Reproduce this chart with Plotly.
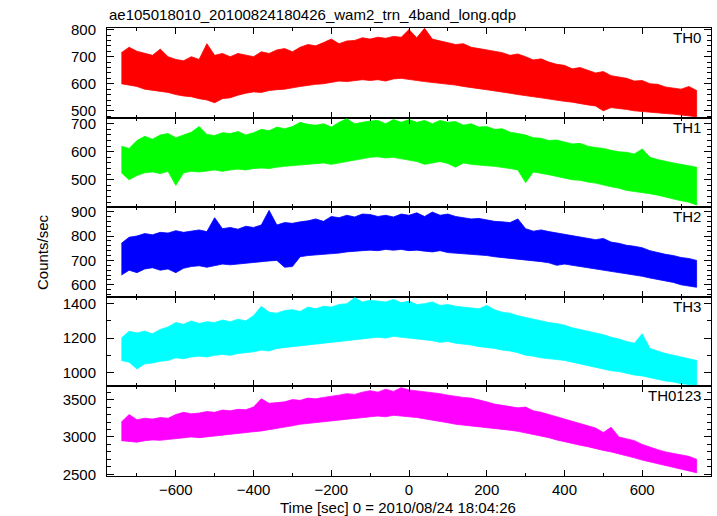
import plotly.graph_objects as go

time_s = list(range(-740, 741, 20))

# Upper / lower envelopes of each light curve (counts/sec)
th0_hi = [715, 735, 720, 712, 705, 728, 700, 690, 685, 700,
          690, 748, 705, 712, 700, 712, 705, 700, 718, 712,
          725, 730, 718, 735, 745, 740, 752, 765, 748, 758,
          760, 770, 765, 772, 768, 775, 772, 800, 770, 805,
          765, 758, 752, 745, 748, 735, 730, 725, 722, 715,
          705, 710, 700, 688, 692, 680, 672, 668, 655, 660,
          650, 640, 645, 630, 625, 620, 610, 612, 600, 598,
          588, 585, 580, 590, 575]
th0_lo = [600, 595, 590, 580, 575, 572, 568, 560, 555, 552,
          545, 540, 530, 545, 548, 558, 565, 570, 568, 575,
          578, 580, 585, 590, 595, 598, 600, 605, 610, 608,
          612, 615, 612, 615, 610, 618, 620, 615, 612, 608,
          605, 600, 598, 595, 590, 585, 582, 578, 575, 570,
          565, 560, 555, 552, 548, 545, 540, 535, 532, 528,
          522, 518, 500, 512, 508, 505, 500, 498, 495, 492,
          490, 488, 485, 482, 478]

th1_hi = [620, 612, 640, 655, 645, 660, 665, 650, 660, 670,
          690, 662, 658, 668, 665, 672, 660, 668, 680, 675,
          688, 682, 690, 705, 698, 695, 700, 688, 705, 718,
          700, 705, 710, 712, 700, 715, 705, 715, 705, 712,
          700, 712, 705, 708, 695, 700, 688, 690, 680, 682,
          670, 665, 660, 650, 648, 640, 642, 635, 628, 630,
          620, 615, 612, 605, 600, 598, 592, 610, 580, 572,
          565, 560, 555, 550, 545]
th1_lo = [525, 500, 515, 525, 528, 522, 530, 480, 525, 530,
          528, 532, 535, 530, 535, 538, 535, 540, 542, 540,
          545, 548, 550, 552, 555, 558, 560, 555, 560, 565,
          570, 575, 580, 582, 578, 580, 575, 570, 565, 555,
          560, 565, 558, 545, 560, 555, 552, 550, 548, 545,
          540, 535, 490, 528, 522, 518, 512, 505, 500, 498,
          492, 488, 482, 475, 470, 462, 458, 455, 450, 445,
          440, 432, 425, 420, 410]

th2_hi = [770, 795, 800, 810, 805, 815, 812, 822, 815, 820,
          825, 818, 875, 830, 835, 828, 840, 835, 845, 905,
          845, 855, 852, 858, 862, 870, 860, 880, 875, 885,
          878, 890, 888, 880, 885, 878, 890, 885, 895, 880,
          898, 885, 890, 880, 875, 870, 872, 865, 860, 858,
          855, 870, 830, 820, 825, 818, 812, 808, 800, 795,
          790, 785, 790, 775, 770, 762, 758, 752, 740, 732,
          725, 720, 712, 708, 700]
th2_lo = [640, 660, 650, 665, 670, 660, 665, 650, 668, 675,
          678, 672, 680, 685, 682, 688, 690, 692, 695, 698,
          700, 672, 675, 715, 720, 722, 725, 728, 730, 735,
          738, 740, 742, 740, 745, 742, 745, 740, 742, 738,
          735, 740, 732, 730, 728, 725, 722, 720, 715, 712,
          708, 705, 700, 698, 695, 690, 680, 685, 682, 678,
          672, 665, 660, 655, 650, 645, 640, 635, 628, 620,
          615, 610, 600, 595, 590]

th3_hi = [1200, 1240, 1230, 1240, 1225, 1250, 1265, 1290, 1280, 1300,
          1285, 1295, 1290, 1305, 1295, 1310, 1300, 1330, 1385, 1350,
          1345, 1360, 1365, 1355, 1380, 1370, 1385, 1380, 1395, 1400,
          1435, 1410, 1420, 1415, 1410, 1425, 1405, 1415, 1395, 1400,
          1410, 1390, 1395, 1385, 1380, 1375, 1370, 1390, 1365, 1350,
          1345, 1330, 1320, 1310, 1300, 1290, 1285, 1275, 1260, 1250,
          1240, 1230, 1220, 1205, 1195, 1180, 1170, 1225, 1140, 1125,
          1110, 1100, 1090, 1080, 1070]
th3_lo = [1070, 1060, 1020, 1050, 1055, 1065, 1070, 1085, 1080, 1090,
          1095, 1090, 1100, 1105, 1100, 1110, 1115, 1120, 1130, 1125,
          1140, 1145, 1150, 1155, 1160, 1165, 1170, 1175, 1180, 1185,
          1190, 1195, 1200, 1205, 1200, 1210, 1205, 1200, 1195, 1190,
          1185, 1175, 1180, 1170, 1165, 1160, 1150, 1145, 1140, 1130,
          1125, 1115, 1100, 1095, 1085, 1080, 1075, 1070, 1060, 1050,
          1040, 1030, 1020, 1010, 1005, 995, 985, 980, 970, 960,
          950, 945, 935, 930, 925]

th0123_hi = [3200, 3300, 3230, 3250, 3240, 3260, 3250, 3300, 3330, 3310,
             3320, 3340, 3330, 3360, 3350, 3370, 3365, 3400, 3510, 3450,
             3460, 3470, 3500, 3490, 3520, 3510, 3530, 3540, 3560, 3580,
             3570, 3600, 3620, 3600, 3640, 3610, 3660, 3630, 3620, 3600,
             3590, 3580, 3560, 3540, 3530, 3520, 3500, 3470, 3440, 3420,
             3400, 3390, 3400, 3350, 3330, 3300, 3270, 3250, 3220, 3180,
             3150, 3120, 3060, 3130, 3000, 2980, 2950, 2900, 2860, 2830,
             2800, 2780, 2760, 2740, 2700]
th0123_lo = [2950, 2940, 2930, 2950, 2960, 2955, 2970, 2980, 2990, 3000,
             2990, 3010, 3020, 3030, 3040, 3050, 3060, 3070, 3080, 3090,
             3110, 3130, 3150, 3170, 3190, 3200, 3210, 3220, 3230, 3240,
             3250, 3260, 3270, 3280, 3270, 3290, 3280, 3270, 3260, 3250,
             3230, 3210, 3190, 3170, 3155, 3140, 3130, 3120, 3110, 3100,
             3090, 3075, 3060, 3040, 3010, 2990, 2960, 2940, 2910, 2890,
             2870, 2850, 2820, 2800, 2770, 2750, 2720, 2690, 2660, 2640,
             2610, 2590, 2570, 2545, 2520]

band_names = ["TH0", "TH1", "TH2", "TH3", "TH0123"]
band_hi = [th0_hi, th1_hi, th2_hi, th3_hi, th0123_hi]
band_lo = [th0_lo, th1_lo, th2_lo, th3_lo, th0123_lo]
band_colors = ["#ff0000", "#00ff00", "#0000ff", "#00ffff", "#ff00ff"]
y_ranges = [[475, 806], [402, 722], [551, 918], [919, 1440], [2477, 3677]]
y_major = [100, 100, 100, 200, 500]
y_minor = [20, 20, 20, 100, 100]
x_range = [-777, 777]

title_text = "ae105018010_20100824180426_wam2_trn_4band_long.qdp"
x_title = "Time [sec] 0 = 2010/08/24 18:04:26"
y_title = "Counts/sec"

FONT = "Liberation Sans, Arial, Helvetica, sans-serif"
fig = go.Figure()
n = len(band_names)
layout = dict(
    width=717, height=516,
    margin=dict(l=107, r=6, t=28, b=40),
    paper_bgcolor="white", plot_bgcolor="white",
    showlegend=False,
    font=dict(family=FONT, size=15, color="black"),
)
annotations = []
for k in range(n):
    xs = "" if k == 0 else str(k + 1)
    fig.add_trace(go.Scatter(
        x=time_s + time_s[::-1],
        y=band_hi[k] + band_lo[k][::-1],
        mode="lines", fill="toself",
        fillcolor=band_colors[k],
        line=dict(color=band_colors[k], width=0.8),
        xaxis="x" + xs, yaxis="y" + xs, hoverinfo="skip",
    ))
    top = 1 - k / n
    bot = 1 - (k + 1) / n
    layout["xaxis" + xs] = dict(
        domain=[0, 1], anchor="y" + xs, range=x_range,
        showline=True, linecolor="black", linewidth=1, mirror="ticks",
        ticks="inside", ticklen=6, tickcolor="black", tick0=0, dtick=200,
        minor=dict(dtick=100, ticklen=3, ticks="inside", tickcolor="black", showgrid=False),
        showgrid=False, zeroline=False,
        showticklabels=(k == n - 1),
        tickfont=dict(size=15, family=FONT, color="black"),
    )
    layout["yaxis" + xs] = dict(
        domain=[bot, top], anchor="x" + xs, range=y_ranges[k],
        showline=True, linecolor="black", linewidth=1, mirror="ticks",
        ticks="inside", ticklen=7, tickcolor="black", tick0=0, dtick=y_major[k],
        minor=dict(dtick=y_minor[k], ticklen=4, ticks="inside", tickcolor="black", showgrid=False),
        showgrid=False, zeroline=False,
        tickfont=dict(size=15, family=FONT, color="black"),
        ticklabelstandoff=7,
    )
    annotations.append(dict(
        text=band_names[k], xref="paper", yref="paper",
        x=(703 - 107) / 604, y=top, xanchor="right", yanchor="top", yshift=1,
        showarrow=False, font=dict(size=15, family=FONT, color="black"),
    ))

annotations.append(dict(text=title_text, xref="paper", yref="paper", x=0, y=1 + 13 / 448,
                        xanchor="left", yanchor="middle", showarrow=False,
                        font=dict(size=15, family=FONT, color="black")))
annotations.append(dict(text=x_title, xref="paper", yref="paper", x=(397.5 - 107) / 604,
                        y=-(507 - 476) / 448, xanchor="center", yanchor="middle", showarrow=False,
                        font=dict(size=15, family=FONT, color="black")))
annotations.append(dict(text=y_title, xref="paper", yref="paper", x=(42 - 107) / 604,
                        y=0.5, xanchor="center", yanchor="middle", textangle=-90, showarrow=False,
                        font=dict(size=15, family=FONT, color="black")))
layout["annotations"] = annotations
fig.update_layout(**layout)
fig.write_html("out.html",
               config={"displayModeBar": False},
               post_script="document.body.style.margin='0';document.body.style.overflow='hidden';")
